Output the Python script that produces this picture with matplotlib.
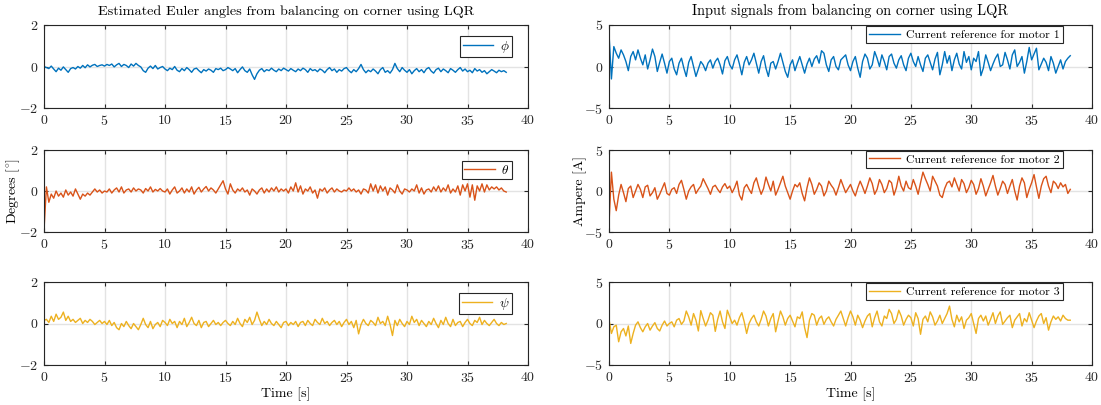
import numpy as np
import matplotlib
matplotlib.use("Agg")
import matplotlib.pyplot as plt

plt.rcParams.update({
    "font.family": "serif",
    "font.serif": ["cmr10"],
    "mathtext.fontset": "cm",
    "axes.unicode_minus": False,
    "axes.formatter.use_mathtext": True,
    "font.size": 10,
})

DT = 0.2  # sample period [s]

phi = [
    0.00, -0.05, -0.10, 0.02, -0.12, -0.25, -0.08, -0.18, -0.02, -0.15, -0.28, -0.10, -0.05, -0.12, 0.00, -0.08, 0.05, -0.06, 0.08, -0.02, 0.06, 0.10, 0.00, 0.05, 0.08,
    0.02, 0.10, 0.05, 0.12, -0.02, 0.08, 0.15, 0.00, 0.10, 0.05, -0.05, 0.12, 0.02, 0.15, 0.05, -0.02, -0.20, -0.28, -0.08, 0.02, -0.10, 0.05, -0.12, -0.05, 0.00,
    -0.12, -0.20, -0.08, -0.15, 0.00, -0.18, -0.25, -0.10, -0.20, -0.05, -0.15, -0.28, -0.12, -0.08, -0.20, -0.30, -0.15, -0.22, -0.12, -0.18, -0.28, -0.10, -0.15, -0.08, -0.20,
    -0.15, -0.05, -0.12, -0.20, -0.10, -0.30, -0.15, -0.02, -0.20, -0.28, -0.12, -0.40, -0.62, -0.35, -0.18, -0.10, -0.25, -0.15, -0.20, -0.08, -0.18, -0.25, -0.12, -0.20, -0.08,
    -0.15, -0.22, -0.10, -0.18, -0.25, -0.12, -0.20, -0.08, -0.15, -0.28, -0.10, -0.20, -0.15, -0.25, -0.12, -0.18, -0.30, -0.15, -0.05, -0.20, -0.12, -0.28, -0.15, -0.22, -0.10,
    -0.05, -0.20, -0.30, -0.15, -0.25, -0.10, 0.10, -0.15, -0.30, -0.18, -0.25, -0.12, -0.22, -0.35, -0.15, -0.05, -0.28, -0.20, -0.32, -0.15, 0.15, -0.10, -0.25, -0.05, -0.18,
    -0.28, -0.15, -0.35, -0.20, -0.10, -0.25, -0.15, -0.30, -0.12, -0.05, -0.22, -0.32, -0.15, -0.08, -0.25, -0.12, -0.20, -0.30, -0.10, -0.18, -0.28, -0.15, -0.05, -0.22, -0.12,
    -0.25, -0.18, -0.30, -0.10, -0.22, -0.15, -0.28, -0.20, -0.35, -0.25, -0.15, -0.22, -0.30, -0.18, -0.25, -0.20, -0.28,
]

theta = [
    -1.90, 0.20, -0.55, -0.15, -0.35, 0.00, -0.25, -0.10, -0.30, 0.05, -0.20, -0.05, -0.25, 0.10, -0.15, -0.40, -0.15, -0.25, -0.10, -0.20, -0.05, 0.10, -0.05, 0.05, -0.10,
    0.00, -0.05, 0.10, -0.10, 0.05, 0.15, -0.05, 0.20, -0.10, 0.05, 0.10, -0.05, 0.15, 0.00, 0.10, 0.05, -0.10, 0.12, 0.00, 0.20, -0.05, 0.08, 0.00, 0.12, 0.00,
    -0.05, 0.10, -0.15, 0.05, 0.20, -0.10, 0.00, 0.15, -0.10, 0.10, -0.05, 0.20, -0.15, 0.05, 0.18, -0.05, 0.10, 0.22, 0.00, 0.15, 0.05, -0.10, 0.10, 0.30, 0.50,
    0.10, -0.15, 0.35, 0.05, -0.10, 0.10, 0.00, 0.15, -0.05, 0.05, -0.20, 0.10, 0.00, -0.15, 0.05, 0.15, -0.10, 0.10, -0.05, 0.15, 0.00, 0.20, -0.05, 0.10, 0.00,
    0.10, -0.10, 0.20, 0.00, 0.40, -0.05, 0.25, -0.15, 0.10, 0.00, 0.20, -0.10, 0.05, -0.35, 0.10, 0.00, 0.15, -0.10, 0.05, 0.15, -0.05, 0.10, 0.00, -0.05, 0.05,
    0.00, 0.15, 0.00, 0.10, -0.05, 0.05, -0.15, 0.10, 0.05, -0.10, 0.35, 0.00, 0.30, -0.10, 0.25, 0.00, 0.20, -0.20, 0.15, 0.05, -0.10, 0.30, 0.00, -0.15, 0.10,
    0.05, -0.05, 0.10, 0.00, 0.30, -0.10, 0.15, -0.15, 0.05, 0.10, -0.05, 0.20, 0.00, 0.25, -0.05, 0.15, 0.00, 0.30, -0.10, 0.10, -0.05, 0.25, -0.20, 0.30, 0.00,
    0.35, -0.30, 0.30, -0.45, 0.25, 0.00, 0.35, -0.05, 0.30, 0.05, 0.20, 0.10, 0.20, 0.05, 0.15, 0.00, -0.05,
]

psi = [
    0.15, 0.20, 0.05, 0.35, 0.10, 0.45, 0.20, 0.30, 0.55, 0.15, 0.35, 0.10, 0.20, 0.05, 0.15, 0.25, 0.00, 0.15, 0.05, 0.20, 0.10, -0.05, 0.05, 0.15, 0.00,
    0.10, -0.05, 0.15, -0.10, 0.05, -0.20, -0.30, 0.00, -0.15, 0.10, -0.10, -0.25, 0.00, -0.15, -0.30, -0.05, 0.25, -0.05, -0.20, 0.10, -0.25, -0.05, 0.05, -0.15, 0.15,
    0.05, -0.10, 0.20, 0.00, 0.10, -0.20, 0.10, -0.05, 0.25, -0.15, 0.05, 0.30, 0.00, -0.10, 0.15, -0.20, 0.05, 0.10, -0.15, 0.00, 0.15, -0.05, 0.05, -0.10, 0.05,
    0.15, 0.00, -0.10, 0.10, -0.05, 0.25, 0.00, -0.15, 0.20, 0.05, 0.30, -0.05, 0.15, 0.55, 0.20, -0.10, 0.10, -0.05, 0.20, 0.00, -0.10, 0.10, -0.05, -0.20, 0.05,
    0.10, -0.10, 0.05, -0.05, 0.10, -0.15, 0.05, 0.10, -0.10, 0.15, 0.00, -0.10, 0.20, 0.05, -0.05, 0.25, 0.00, 0.10, -0.10, 0.05, 0.15, -0.05, 0.10, -0.15, 0.05,
    0.20, -0.05, 0.10, -0.20, 0.15, -0.50, -0.05, 0.20, 0.00, -0.10, 0.15, 0.05, -0.10, 0.30, 0.00, 0.10, -0.10, 0.35, -0.05, -0.58, 0.15, -0.10, 0.20, 0.00, -0.15,
    0.10, -0.05, 0.35, 0.05, 0.20, -0.10, 0.15, 0.00, -0.15, 0.10, -0.05, 0.25, 0.00, -0.20, 0.15, -0.05, 0.30, 0.00, -0.15, 0.20, -0.10, 0.05, 0.10, -0.15, 0.05,
    0.20, 0.00, -0.10, 0.15, 0.05, 0.30, -0.05, 0.15, 0.00, -0.10, 0.05, 0.20, 0.00, -0.10, 0.05, -0.05, 0.00,
]

motor1 = [
    4.0, -1.5, 2.4, 1.6, 1.0, 2.0, 1.4, 0.6, -0.5, 1.2, 1.8, 0.8, 2.0, 1.0, 0.2, 1.4, -0.3, 0.8, 2.1, 1.2, -0.6, 0.5, 1.5, 0.4, -0.8,
    0.6, 1.0, -0.3, -1.0, 0.4, 1.0, -0.2, -1.2, 0.5, 1.2, 0.0, -1.2, -0.3, 0.6, 0.2, -0.5, 0.4, 0.8, -0.2, 0.6, 1.0, 0.2, -0.9, 0.7, 1.2,
    0.2, -0.3, 0.8, 1.4, 0.3, -1.0, 0.5, 1.2, 0.2, 0.8, 1.6, 0.4, -0.8, 0.6, 1.3, -0.2, -1.2, 0.4, 0.6, -0.3, 0.6, 1.6, 0.5, -0.6, -1.3,
    0.2, 0.8, -0.5, 0.4, 1.2, 0.2, -0.8, 0.3, 1.0, 0.0, 0.9, 1.3, 0.4, 1.9, 1.6, 0.2, -0.6, 0.8, 1.2, 0.0, -0.4, 0.8, 1.1, 1.4, 0.2,
    -0.5, 0.6, 1.2, -0.2, -1.3, 0.6, 1.5, 1.0, -0.3, 0.2, 1.8, 1.0, 0.0, 1.4, 0.6, -0.4, 1.2, 1.5, 0.4, -0.2, 0.8, 1.3, 0.2, -0.5, 1.0,
    1.6, 0.6, 0.0, 1.2, 0.2, -0.6, 1.0, 1.4, 0.5, -0.4, 0.9, 1.7, -1.0, 0.2, 1.8, 0.4, 1.3, -0.5, 0.8, 1.6, 0.3, -0.3, 1.8, 0.5, 1.2,
    -0.4, 1.0, 0.6, 1.8, -1.1, -0.2, 1.4, 0.5, -0.5, 0.3, 1.0, 1.5, 0.0, 0.2, 1.7, 0.8, -0.3, 1.4, 2.0, 0.0, 0.5, 1.2, -0.8, 0.6, 2.3,
    0.8, 1.5, 2.2, -0.4, 0.3, 1.0, 0.5, -0.5, 1.2, 0.4, -0.8, 0.0, 0.8, -0.3, 0.6, 1.0, 1.3,
]

motor2 = [
    -4.0, 2.3, -1.0, -2.4, -0.5, 0.8, -0.2, -1.3, 0.3, 0.6, -0.8, 0.0, 0.8, 0.2, -0.8, 0.5, 0.7, -0.6, -0.2, 0.4, -1.0, -0.4, 0.3, 1.0, -0.3,
    -0.5, 0.2, 0.4, -0.3, 0.8, 1.3, 0.2, -1.0, 0.0, 0.5, 0.8, -0.3, 0.2, 0.6, 1.5, 0.9, 0.3, -0.4, 0.5, 0.7, 0.2, -0.2, 0.5, 0.9, 0.3,
    0.6, -0.2, 0.4, 1.2, -0.5, -1.1, 0.4, 0.8, 0.2, -0.3, 1.0, 1.6, 0.5, -0.4, 0.3, 1.7, 0.8, 0.0, 1.2, -0.5, 0.2, 1.0, 1.8, 0.6, -0.2,
    -1.0, 0.0, 0.8, 0.5, 1.0, -0.3, -1.2, 0.4, 1.6, 0.8, -0.4, 0.2, 1.0, 0.6, -0.6, 0.0, 1.2, 0.7, 0.3, -0.5, 0.4, 1.4, 0.6, -0.2, 0.3,
    0.8, 0.0, -0.6, 0.4, 1.2, 0.5, -0.3, 0.6, 1.6, 0.9, -0.4, 0.2, 1.4, 0.8, -0.2, 0.3, 1.3, 1.0, -0.5, 0.4, 1.8, 0.6, 0.0, 1.2, 0.4,
    0.2, 1.4, 0.6, -0.4, 1.0, 2.3, 1.5, 0.8, 0.0, 1.8, 1.2, 0.6, -0.5, -0.8, 0.3, 1.0, 1.2, 0.5, 1.6, 0.8, 0.0, 1.4, 0.9, -0.2, 0.4,
    1.3, 0.8, -0.4, 0.3, 1.5, 0.6, -0.6, 0.2, 1.0, 1.9, 0.6, -0.5, 0.3, 1.2, 0.8, -0.3, 0.6, 1.4, 0.0, -1.1, 0.6, 1.6, 1.0, -0.8, 0.2,
    1.0, 2.0, 0.5, -0.9, 0.6, 1.5, 1.8, 0.6, -0.2, 1.2, 0.9, 0.3, 1.0, 0.5, 0.8, -0.3, 0.2,
]

motor3 = [
    0.5, -1.2, -0.4, -0.2, -2.2, -1.0, -0.6, -1.5, -0.3, -2.4, -1.2, -0.2, 0.2, -0.5, -1.0, -0.4, 0.0, -0.8, -0.3, 0.1, -0.6, -0.9, -0.2, 0.3, -0.3,
    0.0, 0.2, -0.4, 0.4, 0.6, -0.1, 0.3, 1.5, 0.8, -0.2, 1.2, 0.4, -0.9, 1.55, 0.6, -0.3, 0.4, 1.3, 1.0, -0.95, 0.5, 1.5, 0.2, -0.6, 1.6,
    0.8, 0.0, 0.4, -0.2, 0.7, 1.3, 0.2, -1.2, 0.0, 0.6, 1.0, 0.2, -0.3, 0.5, 1.5, 0.9, -0.3, 0.6, 1.2, -1.0, 0.3, 1.5, 0.8, -0.2, 0.6,
    1.0, 0.3, -0.4, 0.8, 0.6, 1.4, -0.5, -1.7, 0.4, 1.2, 1.0, -0.2, 0.6, 0.9, -0.1, 0.5, 0.8, 0.2, -0.3, 0.5, 1.0, 1.5, 0.6, -0.3, 0.7,
    1.5, 0.8, -0.2, 1.0, 0.4, -0.5, 0.3, 0.9, 1.2, -0.4, 0.7, 1.5, 0.2, -0.3, 0.9, 0.6, 1.7, 1.2, 0.0, 0.5, 1.6, 0.9, -0.2, 0.5, 1.0,
    0.7, -0.3, 1.3, 0.6, -1.3, 0.5, 0.9, 0.2, 1.4, 0.8, -0.2, 0.3, 1.0, 0.0, 0.6, 1.2, 2.1, 0.5, -0.4, 1.0, 0.2, 0.8, -0.6, 0.4, 0.7,
    1.2, 0.0, -1.2, 0.6, 1.0, 0.3, 0.9, -0.2, 0.5, 1.3, 0.0, 0.9, 1.4, -0.1, 0.3, 0.7, 1.0, -0.5, 0.4, 0.8, 1.2, -0.3, 0.6, 0.2, 1.3,
    0.4, -0.5, 0.3, 0.9, 1.2, 0.0, 0.7, -0.8, 0.2, 0.9, 0.5, 0.8, 0.3, 1.0, 0.6, 0.4, 0.4,
]

x_ticks = [0, 5, 10, 15, 20, 25, 30, 35, 40]
angle_ticks = [-2, 0, 2]
current_ticks = [-5, 0, 5]

left_labels = [r"$\phi$", r"$\theta$", r"$\psi$"]
right_labels = ["Current reference for motor 1",
                "Current reference for motor 2",
                "Current reference for motor 3"]
colors = ["#0072BD", "#D95319", "#EDB120"]

W, H = 1101, 405
fig = plt.figure(figsize=(W / 100, H / 100), dpi=100)

rows_px = [(25, 108), (150, 232), (282, 365)]
cols_px = [(44, 528), (609, 1092)]


def make_ax(col, row):
    x0, x1 = cols_px[col]
    y0, y1 = rows_px[row]
    return fig.add_axes([x0 / W, 1 - y1 / H, (x1 - x0) / W, (y1 - y0) / H])


def style(ax, yticks):
    ax.set_xlim(0, 40)
    ax.set_ylim(yticks[0], yticks[-1])
    ax.set_xticks(x_ticks)
    ax.set_yticks(yticks)
    ax.grid(True, color="#e3e3e3", linewidth=1.0)
    ax.set_axisbelow(True)
    ax.tick_params(direction="in", length=3, width=0.8, top=True, right=True,
                   colors="#262626", labelsize=10, pad=4)
    for s in ax.spines.values():
        s.set_color("#262626")
        s.set_linewidth(0.8)


left_series = [phi, theta, psi]
right_series = [motor1, motor2, motor3]

axes_left = []
axes_right = []
for r in range(3):
    ax = make_ax(0, r)
    y = np.array(left_series[r])
    t = np.arange(len(y)) * DT
    ax.plot(t, y, color=colors[r], linewidth=1.0, label=left_labels[r])
    style(ax, angle_ticks)
    leg = ax.legend(loc="upper right", bbox_to_anchor=(0.967, 0.867),
                    borderaxespad=0, fancybox=False, framealpha=1,
                    edgecolor="#262626", fontsize=9.5, handlelength=2.3,
                    borderpad=0.2, handletextpad=0.5)
    leg.get_frame().set_linewidth(0.8)
    axes_left.append(ax)

    ax = make_ax(1, r)
    y = np.array(right_series[r])
    t = np.arange(len(y)) * DT
    ax.plot(t, y, color=colors[r], linewidth=1.0, label=right_labels[r])
    style(ax, current_ticks)
    leg = ax.legend(loc="upper right", bbox_to_anchor=(0.94, 0.99),
                    borderaxespad=0, fancybox=False, framealpha=1,
                    edgecolor="#262626", fontsize=8.5, handlelength=2.6,
                    borderpad=0.3, handletextpad=0.5)
    leg.get_frame().set_linewidth(0.8)
    axes_right.append(ax)

axes_left[0].set_title("Estimated Euler angles from balancing on corner using LQR",
                       fontsize=10.2, pad=7)
axes_right[0].set_title("Input signals from balancing on corner using LQR",
                        fontsize=10.4, pad=7)
axes_left[1].set_ylabel(r"Degrees [$^{\circ}$]", fontsize=10)
axes_left[1].yaxis.set_label_coords(-0.046, 0.5)
axes_right[1].set_ylabel("Ampere [A]", fontsize=10)
axes_right[1].yaxis.set_label_coords(-0.046, 0.5)
axes_left[2].set_xlabel("Time [s]", fontsize=10, labelpad=2)
axes_right[2].set_xlabel("Time [s]", fontsize=10, labelpad=2)

fig.savefig("out.png", dpi=100)
